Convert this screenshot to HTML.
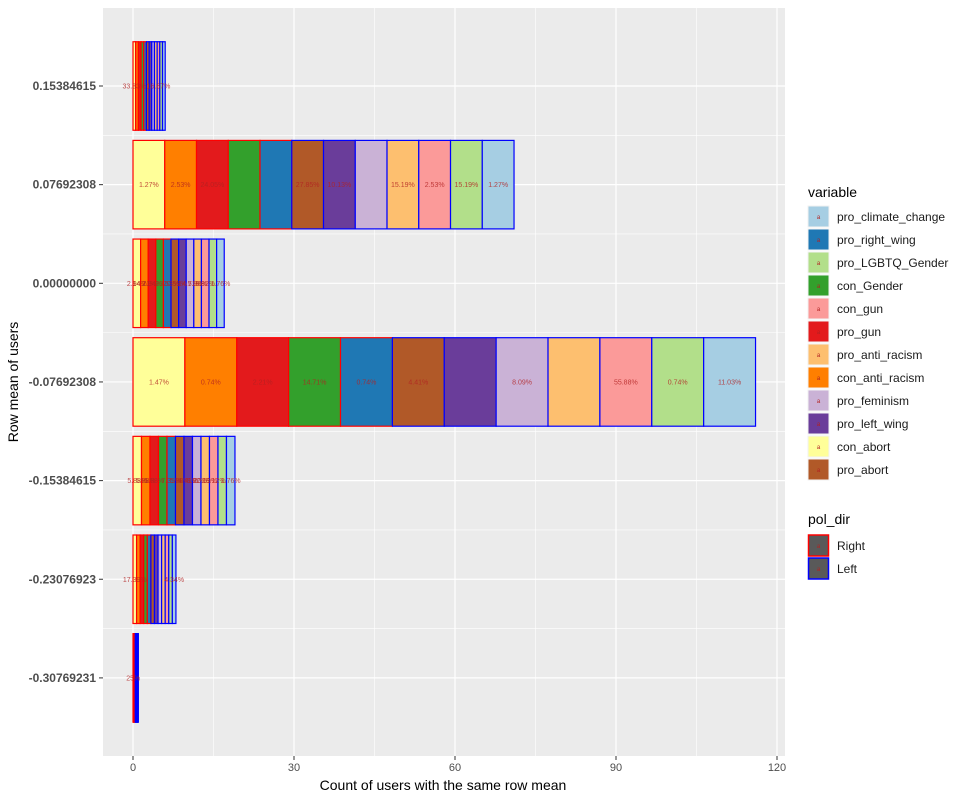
<!DOCTYPE html>
<html><head><meta charset="utf-8"><style>
body{margin:0;background:#fff;font-family:"Liberation Sans",sans-serif}
svg text{font-family:"Liberation Sans",sans-serif}
</style></head><body>
<svg id="chart" width="964" height="801" xmlns="http://www.w3.org/2000/svg">
<rect x="103" y="8" width="682" height="748" fill="#ebebeb"/>
<g id="grid"></g><g id="bars"></g><g id="axes"></g>
<text x="443" y="790" font-size="14" text-anchor="middle" fill="#000">Count of users with the same row mean</text>
<text transform="translate(18,382) rotate(-90)" font-size="14" text-anchor="middle" fill="#000">Row mean of users</text>
<g id="legend"></g>
</svg>
<script>
const rowLabels=["0.15384615","0.07692308","0.00000000","-0.07692308","-0.15384615","-0.23076923","-0.30769231"];
const rowTotals=[6,71,17,116,19,8,1];
const segVars=["con_abort","con_anti_racism","pro_gun","con_Gender","pro_right_wing","pro_abort","pro_left_wing","pro_feminism","pro_anti_racism","con_gun","pro_LGBTQ_Gender","pro_climate_change"];
const segDir=["Right","Right","Right","Right","Right","Left","Left","Left","Left","Left","Left","Left"];
const pctLabels=[
["33.33%","","","","","","","","","16.67%","",""],
["1.27%","2.53%","24.05%","","","27.85%","10.13%","","15.19%","2.53%","15.19%","1.27%"],
["2.94%","14.71%","2.94%","","23.53%","20.59%","","14.71%","5.88%","8.82%","","1.76%"],
["1.47%","0.74%","2.21%","14.71%","0.74%","4.41%","","8.09%","","55.88%","0.74%","11.03%"],
["5.88%","5.88%","5.88%","","7.35%","5.88%","4.41%","8.82%","20.59%","19.12%","","1.76%"],
["17.39%","","","","","","","","","","","4.34%"],
["25%","","","","","","","","","","",""]];
const xTicks=[0,30,60,90,120];
const legendVars=["pro_climate_change","pro_right_wing","pro_LGBTQ_Gender","con_Gender","con_gun","pro_gun","pro_anti_racism","con_anti_racism","pro_feminism","pro_left_wing","con_abort","pro_abort"];
const colors={pro_climate_change:"#a6cee3",pro_right_wing:"#1f78b4",pro_LGBTQ_Gender:"#b2df8a",con_Gender:"#33a02c",con_gun:"#fb9a99",pro_gun:"#e31a1c",pro_anti_racism:"#fdbf6f",con_anti_racism:"#ff7f00",pro_feminism:"#cab2d6",pro_left_wing:"#6a3d9a",con_abort:"#ffff99",pro_abort:"#b15928"};
const dirColor={Right:"#ff0000",Left:"#0000ff"};
const NS="http://www.w3.org/2000/svg";
const x=v=>133+v*5.3667;
const y=i=>86+i*98.65;
function mk(p,t,a){const e=document.createElementNS(NS,t);for(const k in a)e.setAttribute(k,a[k]);p.appendChild(e);return e;}
const grid=document.getElementById('grid'),bars=document.getElementById('bars'),axes=document.getElementById('axes'),leg=document.getElementById('legend');
for(let i=0;i<xTicks.length-1;i++){const l=mk(grid,'line',{x1:x((xTicks[i]+xTicks[i+1])/2),x2:x((xTicks[i]+xTicks[i+1])/2),y1:8,y2:756,stroke:'#fff','stroke-width':0.6});

}
for(let i=0;i<rowLabels.length-1;i++){const l=mk(grid,'line',{x1:103,x2:785,y1:(y(i)+y(i+1))/2,y2:(y(i)+y(i+1))/2,stroke:'#fff','stroke-width':0.6});

}
xTicks.forEach(t=>{const l=mk(grid,'line',{x1:x(t),x2:x(t),y1:8,y2:756,stroke:'#fff','stroke-width':1.2});


mk(axes,'line',{x1:x(t),x2:x(t),y1:756,y2:760,stroke:'#333'});
const tx=mk(axes,'text',{x:x(t),y:771,'font-size':11,'text-anchor':'middle',fill:'#4d4d4d'});tx.textContent=t;

});
rowLabels.forEach((r,i)=>{const l=mk(grid,'line',{x1:103,x2:785,y1:y(i),y2:y(i),stroke:'#fff','stroke-width':1.2});


mk(axes,'line',{x1:99,x2:103,y1:y(i),y2:y(i),stroke:'#333'});
const tx=mk(axes,'text',{x:96,y:y(i)+4,'font-size':12,'font-weight':'bold','text-anchor':'end',fill:'#4d4d4d'});tx.textContent=r;


const w=rowTotals[i]/segVars.length;const h=88.5;
segVars.forEach((v,j)=>{const rc=mk(bars,'rect',{x:x(w*j),y:y(i)-h/2,width:x(w*(j+1))-x(w*j),height:h,fill:colors[v],stroke:dirColor[segDir[j]],'stroke-width':1.2});

});
segVars.forEach((v,j)=>{if(!pctLabels[i][j])return;const tx=mk(bars,'text',{x:x(w*(j+0.5)),y:y(i)+2.5,'font-size':7,'text-anchor':'middle',fill:'#b22222','fill-opacity':0.8});tx.textContent=pctLabels[i][j];

});});
let t=mk(leg,'text',{x:808,y:197,'font-size':14,fill:'#000'});t.textContent='variable';


legendVars.forEach((v,i)=>{const yy=206+i*23;const r=mk(leg,'rect',{x:808,y:yy,width:21,height:21,fill:colors[v],stroke:'#f2f2f2'});


const a=mk(leg,'text',{x:818.5,y:yy+13,'font-size':6,'text-anchor':'middle',fill:'#b22222'});a.textContent='a';
const tx=mk(leg,'text',{x:837,y:yy+15,'font-size':12,fill:'#1a1a1a'});tx.textContent=v;

});
t=mk(leg,'text',{x:808,y:524,'font-size':14,fill:'#000'});t.textContent='pol_dir';


["Right","Left"].forEach((d,i)=>{const yy=535+i*23;const r=mk(leg,'rect',{x:808.5,y:yy,width:20,height:21,fill:'#595959',stroke:dirColor[d],'stroke-width':1.5});


const a=mk(leg,'text',{x:818.5,y:yy+13,'font-size':6,'text-anchor':'middle',fill:'#b22222'});a.textContent='a';
const tx=mk(leg,'text',{x:837,y:yy+15,'font-size':12,fill:'#1a1a1a'});tx.textContent=d;

});
</script>
</body></html>
